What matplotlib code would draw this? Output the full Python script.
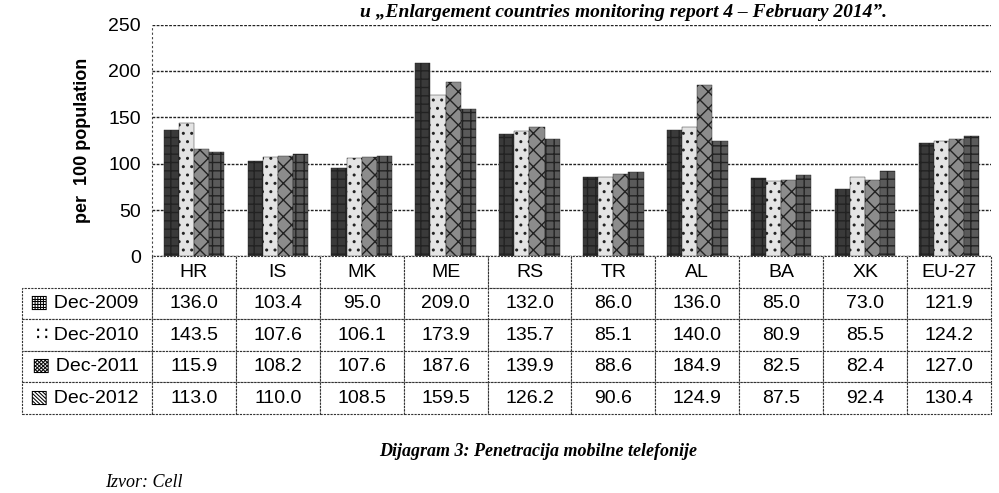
import numpy as np
import matplotlib
matplotlib.use("Agg")
import matplotlib.pyplot as plt

countries = ["HR", "IS", "MK", "ME", "RS", "TR", "AL", "BA", "XK", "EU-27"]
series = ["Dec-2009", "Dec-2010", "Dec-2011", "Dec-2012"]
dec2009 = [136.0, 103.4, 95.0, 209.0, 132.0, 86.0, 136.0, 85.0, 73.0, 121.9]
dec2010 = [143.5, 107.6, 106.1, 173.9, 135.7, 85.1, 140.0, 80.9, 85.5, 124.2]
dec2011 = [115.9, 108.2, 107.6, 187.6, 139.9, 88.6, 184.9, 82.5, 82.4, 127.0]
dec2012 = [113.0, 110.0, 108.5, 159.5, 126.2, 90.6, 124.9, 87.5, 92.4, 130.4]
values = [dec2009, dec2010, dec2011, dec2012]

plt.rcParams['font.family'] = ['Liberation Sans', 'DejaVu Sans']

fig = plt.figure(figsize=(9.99, 4.93), dpi=100)
ax = fig.add_axes([0.152, 0.48, 0.84, 0.47])

faces = ["#3a3a3a", "#e4e4e4", "#8c8c8c", "#5a5a5a"]
hatches = ["++", "..", "xx", "++"]
x = np.arange(len(countries))
w = 0.18
for i, (name, vals) in enumerate(zip(series, values)):
    ax.bar(x + (i - 1.5) * w, vals, w, color=faces[i], edgecolor="#222222",
           hatch=hatches[i], linewidth=0.3, label=name, zorder=3)

ax.set_xlim(-0.5, len(countries) - 0.5)
ax.set_ylim(0, 250)
ax.set_yticks(range(0, 251, 50))
ax.tick_params(axis="y", labelsize=14, length=0, pad=8)
ax.set_xticks([])
ax.grid(axis="y", color="#222222", linestyle=(0, (2, 1)), linewidth=1.0, zorder=0)
for s in ["top", "right", "bottom"]:
    ax.spines[s].set_visible(False)
ax.spines["left"].set_linestyle((0, (1, 3)))
ax.spines["left"].set_color("#444444")
ax.set_ylabel("per  100 population", fontsize=13, fontweight="bold", labelpad=12)

marks = ["\u25a6 ", "\u2237 ", "\u25a9 ", "\u25a7 "]
cell_text = [["%.1f" % v for v in vals] for vals in values]
tbl = ax.table(cellText=cell_text, rowLabels=[m + s for m, s in zip(marks, series)],
               colLabels=countries, cellLoc="center", rowLoc="center",
               bbox=[0, -0.68, 1, 0.68])
tbl.auto_set_font_size(False)
tbl.set_fontsize(14)
for (r, c), cell in tbl.get_celld().items():
    cell.set_linewidth(0.8)
    cell.set_edgecolor("#333333")
    cell.set_linestyle((0, (2, 1)))
    if c == -1:
        cell.get_text().set_ha("right")

fig.text(0.36, 0.975, "u \u201eEnlargement countries monitoring report 4 \u2013 February 2014\u201d.",
         fontsize=14, style="italic", fontweight="bold", family="Liberation Serif",
         va="center")
fig.text(0.38, 0.075, "Dijagram 3: Penetracija mobilne telefonije", fontsize=13,
         style="italic", fontweight="bold", family="Liberation Serif")
fig.text(0.105, 0.022, "Izvor: Cell", fontsize=13, style="italic",
         family="Liberation Serif", va="center")

fig.savefig("out.png", dpi=100)
